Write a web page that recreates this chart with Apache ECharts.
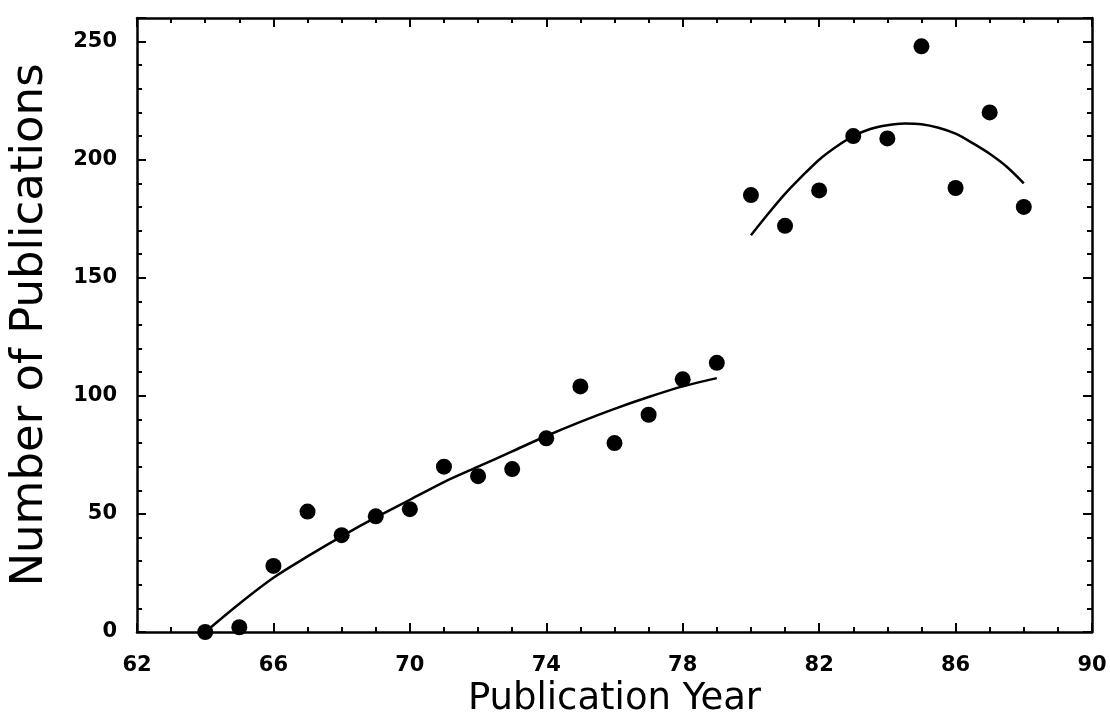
<!DOCTYPE html>
<html>
<head>
<meta charset="utf-8">
<script src="https://cdn.jsdelivr.net/npm/echarts@6/dist/echarts.min.js"></script>
<style>html,body{margin:0;padding:0;background:#fff;}#c{width:1110px;height:728px;}</style>
</head>
<body>
<div id="c"></div>
<script>
// Observed data points
const years = [64,65,66,67,68,69,70,71,72,73,74,75,76,77,78,79,80,81,82,83,84,85,86,87,88];
const counts = [0,2,28,51,41,49,52,70,66,69,82,104,80,92,107,114,185,172,187,210,209,248,188,220,180];

// Fitted curves
const fitYearsA = [64,65,66,67,68,69,70,71,72,73,74,75,76,77,78,79];
const fitValuesA = [0,12,23,32,40.5,48.5,56,63.5,70,76.5,83,89,94.5,99.5,104,107.5];
const fitYearsB = [80,80.5,81,81.5,82,82.5,83,83.5,84,84.5,85,85.5,86,86.5,87,87.5,88];
const fitValuesB = [168,177,185.5,193,200,205.5,210,213,214.6,215.3,215,213.5,211,207,202.5,197,190];

// Axis settings
const xTicks = [62,66,70,74,78,82,86,90];
const yTicks = [0,50,100,150,200,250];

const pairs = (xs, ys) => xs.map((x, i) => [x, ys[i]]);

const lineStyle = {color: '#000', width: 2.5};
const tickFont = {fontFamily: 'DejaVu Sans', fontWeight: 'bold', fontSize: 21, color: '#000'};

function xAx(pos, showLabel) {
  return {
    type: 'value', position: pos, min: 62, max: 90, interval: 4,
    axisLine: {show: true, onZero: false, lineStyle: lineStyle},
    axisTick: {show: true, inside: true, length: 9, lineStyle: {color: '#000', width: 2}},
    minorTick: {show: true, splitNumber: 4, length: 5, lineStyle: {color: '#000', width: 2}},
    splitLine: {show: false}, minorSplitLine: {show: false},
    axisLabel: Object.assign({show: showLabel, margin: 23,
      formatter: v => xTicks.includes(v) ? String(v) : ''}, tickFont),
    name: showLabel ? 'Publication Year' : '',
    nameLocation: 'middle', nameGap: 49,
    nameTextStyle: {fontFamily: 'DejaVu Sans', fontSize: 37, color: '#000'}
  };
}
function yAx(pos, showLabel) {
  return {
    type: 'value', position: pos, min: 0, max: 260, interval: 50,
    axisLine: {show: true, onZero: false, lineStyle: lineStyle},
    axisTick: {show: true, inside: true, length: 9, lineStyle: {color: '#000', width: 2}},
    minorTick: {show: true, splitNumber: 5, length: 5, lineStyle: {color: '#000', width: 2}},
    splitLine: {show: false}, minorSplitLine: {show: false},
    axisLabel: Object.assign({show: showLabel, margin: 20, showMaxLabel: false,
      formatter: v => yTicks.includes(v) ? String(v) : ''}, tickFont),
    name: showLabel ? 'Number of Publications' : '',
    nameLocation: 'middle', nameGap: 84, nameRotate: 90,
    nameTextStyle: {fontFamily: 'DejaVu Sans', fontSize: 45, color: '#000'}
  };
}

const chart = echarts.init(document.getElementById('c'), null, {renderer: 'canvas'});
chart.setOption({
  animation: false,
  backgroundColor: '#fff',
  grid: {left: 137, right: 18, top: 18, bottom: 96, containLabel: false, outerBoundsMode: 'none'},
  xAxis: [xAx('bottom', true), xAx('top', false)],
  yAxis: [yAx('left', true), yAx('right', false)],
  series: [
    {type: 'line', data: pairs(fitYearsA, fitValuesA), smooth: 0.3, showSymbol: false,
     lineStyle: {color: '#000', width: 2.5}, z: 2},
    {type: 'line', data: pairs(fitYearsB, fitValuesB), smooth: 0.3, showSymbol: false,
     lineStyle: {color: '#000', width: 2.5}, z: 2},
    {type: 'scatter', data: pairs(years, counts), symbol: 'circle', symbolSize: 16,
     itemStyle: {color: '#000', opacity: 1}, z: 3}
  ]
});
</script>
</body>
</html>
